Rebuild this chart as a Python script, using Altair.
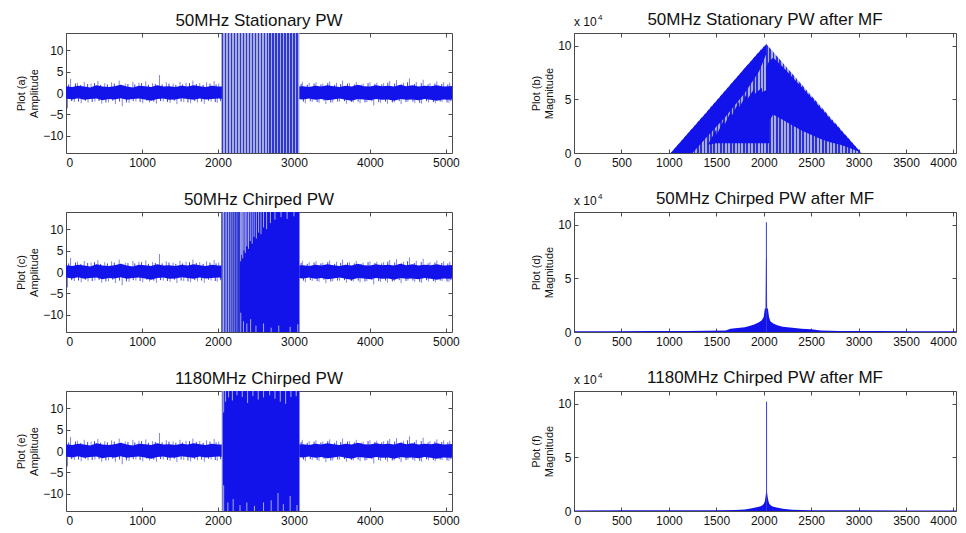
import altair as alt
import pandas as pd

# ------------------------------------------------------------------ data
titles = ["50MHz Stationary PW", "50MHz Stationary PW after MF",
          "50MHz Chirped PW", "50MHz Chirped PW after MF",
          "1180MHz Chirped PW", "1180MHz Chirped PW after MF"]
ytitles = [["Plot (a)", "Amplitude"], ["Plot (b)", "Magnitude"],
           ["Plot (c)", "Amplitude"], ["Plot (d)", "Magnitude"],
           ["Plot (e)", "Amplitude"], ["Plot (f)", "Magnitude"]]

left_ticks = [0, 1000, 2000, 3000, 4000, 5000]
right_ticks = [0, 500, 1000, 1500, 2000, 2500, 3000, 3500, 4000]
amp_ticks = [-10, -5, 0, 5, 10]
mag_ticks = [0, 50000, 100000]
left_xdom = [0, 5080]
right_xdom = [0, 4027]
amp_dom = [-14, 14]
mag_dom = [0, 112000]

# received noise (identical in the three raw records), envelope every 80 samples
noise_x = list(range(0, 5121, 80))
noise_hi = [1.6, 1.4, 1.7, 1.5, 1.3, 1.8, 1.5, 1.4, 1.6, 1.9, 1.5, 1.3, 1.7,
            1.6, 1.4, 1.8, 1.5, 1.6, 1.4, 1.7, 1.5, 1.8, 1.6, 1.4, 1.7, 1.5,
            1.5, 1.5, 1.5, 1.5, 1.5, 1.5, 1.5, 1.5, 1.5, 1.5, 1.5, 1.5, 1.5,
            1.6, 1.4, 1.7, 1.5, 1.8, 1.6, 1.4, 1.7, 1.5, 1.9, 1.6, 1.5, 1.8,
            1.6, 1.7, 1.5, 1.9, 1.6, 1.8, 1.5, 1.7, 1.6, 1.8, 1.5, 1.6, 1.7]
noise_lo = [-1.3, -1.5, -1.2, -1.6, -1.4, -1.3, -1.7, -1.4, -1.5, -1.2, -1.6, -1.4, -1.3,
            -1.5, -1.8, -1.4, -1.3, -1.6, -1.5, -1.2, -1.4, -1.6, -1.3, -1.5, -1.4, -1.3,
            -1.4, -1.4, -1.4, -1.4, -1.4, -1.4, -1.4, -1.4, -1.4, -1.4, -1.4, -1.4, -1.4,
            -1.5, -1.3, -1.6, -1.4, -1.7, -1.5, -1.3, -1.6, -1.8, -1.4, -1.5, -1.7, -1.4,
            -1.6, -1.5, -1.8, -1.4, -1.6, -1.5, -1.7, -1.4, -1.6, -1.8, -1.5, -1.6, -1.4]
# tall isolated noise spikes
spike_x = [60, 150, 240, 330, 420, 510, 600, 700, 780, 880, 960, 1050, 1140, 1230,
           1320, 1410, 1500, 1580, 1670, 1760, 1850, 1950, 2010,
           3110, 3200, 3290, 3380, 3470, 3560, 3640, 3730, 3820, 3910, 4000, 4090,
           4180, 4260, 4350, 4440, 4520, 4610, 4700, 4790, 4880, 4970, 5050,
           20, 110, 200, 290, 380, 470, 560, 650, 740, 830, 920, 1010, 1100, 1190,
           1280, 1370, 1460, 1550, 1640, 1730, 1820, 1910, 1990,
           3150, 3240, 3330, 3420, 3510, 3600, 3690, 3780, 3870, 3960, 4050, 4140,
           4230, 4320, 4410, 4500, 4590, 4680, 4770, 4860, 4950, 5040]
spike_y = [3.3, 2.4, 2.6, 2.2, 2.8, 2.3, 2.5, 2.9, 2.2, 2.6, 2.4, 2.7, 2.3, 4.2,
           2.5, 2.2, 2.6, 2.4, 2.9, 2.3, 2.5, 2.8, 2.2,
           2.6, 2.3, 2.5, 2.2, 2.7, 2.4, 2.9, 2.3, 2.6, 2.2, 2.5, 2.4,
           2.3, 2.8, 3.0, 2.4, 3.4, 2.6, 3.1, 2.3, 2.7, 2.5, 2.4,
           -3.6, -2.1, -2.4, -2.2, -2.0, -2.5, -2.2, -2.6, -3.1, -2.3, -2.0, -2.4, -2.2, -2.5,
           -2.0, -2.3, -2.6, -2.1, -2.4, -2.2, -2.5, -2.0, -2.3,
           -2.4, -2.1, -2.3, -2.6, -2.2, -2.0, -2.5, -2.2, -2.4, -2.1, -2.9, -2.3,
           -2.5, -2.2, -2.6, -2.0, -2.3, -2.5, -2.2, -2.4, -2.1, -2.3]
# shorter spikes that make the fuzzy edge of the noise band
fuzz_x = [35, 125, 195, 285, 375, 455, 545, 635, 725, 815, 905, 995, 1085, 1175, 1265,
          1355, 1445, 1535, 1625, 1715, 1805, 1895, 1975,
          3095, 3175, 3265, 3355, 3445, 3535, 3615, 3705, 3795, 3885, 3975, 4065, 4155,
          4235, 4325, 4415, 4495, 4585, 4675, 4765, 4855, 4945, 5025,
          75, 165, 255, 345, 435, 525, 615, 705, 795, 885, 975, 1065, 1155, 1245, 1335,
          1425, 1515, 1605, 1695, 1785, 1875, 1965, 2035,
          3125, 3215, 3305, 3395, 3485, 3575, 3665, 3755, 3845, 3935, 4025, 4115, 4205,
          4295, 4385, 4475, 4565, 4655, 4745, 4835, 4925, 5015, 5065]
fuzz_y = [2.0, 2.2, 1.9, 2.1, 2.3, 1.9, 2.0, 2.2, 1.9, 2.1, 2.0, 2.3, 1.9, 2.1, 2.0,
          2.2, 1.9, 2.0, 2.3, 2.1, 1.9, 2.2, 2.0,
          2.1, 1.9, 2.2, 2.0, 2.3, 1.9, 2.1, 2.2, 2.0, 1.9, 2.3, 2.1, 2.0,
          2.4, 2.2, 2.0, 2.5, 2.1, 2.3, 2.0, 2.2, 2.1, 2.0,
          -1.9, -2.0, -1.8, -2.1, -1.9, -2.2, -1.8, -2.0, -2.2, -1.9, -2.1, -1.8, -2.0, -1.9, -2.1,
          -1.8, -2.0, -2.2, -1.9, -2.0, -1.8, -2.1, -1.9,
          -2.0, -1.9, -2.1, -1.8, -2.2, -2.0, -1.9, -2.1, -2.0, -2.2, -1.9, -2.1, -2.0,
          -2.2, -1.9, -2.1, -2.0, -2.3, -1.9, -2.1, -2.0, -2.2, -1.9]

pulse_start, pulse_end, pulse_amp = 2048, 3072, 20

# 50 MHz chirp: sparse cycles at the start, then dense
chirp50_strokes = [2052, 2090, 2124, 2155, 2183, 2208, 2231, 2252, 2270, 2285]
chirp50_dense_start = 2290
chirp50_top_x = [2298, 2312, 2326, 2342, 2360, 2380, 2402, 2425, 2450, 2476,
                 2505, 2535, 2566, 2600, 2640, 2690, 2750, 2830, 2910, 3000]
chirp50_top_y = [2.5, 4.0, 3.2, 5.0, 4.4, 6.0, 5.4, 7.2, 6.6, 8.2,
                 7.8, 9.2, 8.8, 10.4, 10.0, 11.4, 12.2, 12.8, 12.4, 13.0]
chirp50_bot_x = [2300, 2335, 2380, 2430, 2500, 2600, 2700, 2800, 2950, 3050]
chirp50_bot_y = [-9.5, -11.5, -12.0, -11.0, -12.5, -12.0, -13.0, -12.5, -12.8, -12.2]

# 1180 MHz chirp: dense over the whole pulse
chirp1180_dense_start = 2062
chirp1180_top_x = [2075, 2100, 2140, 2190, 2250, 2320, 2390, 2460, 2530, 2600,
                   2680, 2750, 2820, 2890, 2960, 3030]
chirp1180_top_y = [9.0, 11.5, 12.5, 11.8, 13.0, 12.6, 11.2, 12.8, 12.0, 12.5,
                   13.0, 12.2, 11.5, 11.0, 12.6, 12.8]
chirp1180_bot_x = [2075, 2130, 2200, 2290, 2380, 2480, 2600, 2700, 2790, 2860, 2950, 3040]
chirp1180_bot_y = [-8.0, -12.0, -11.2, -12.6, -12.0, -12.8, -12.0, -11.5, -9.8, -12.4, -10.5, -12.6]

# stationary pulse after matched filter (triangle)
tri_x = [1020, 2025, 3030]
tri_y = [0, 102000, 0]
b_band_x = [1020, 1250, 1400, 1600, 1800, 1950, 2025]
b_band_lo = [0, 0, 15000, 34000, 56000, 76000, 92000]
b_band_hi = [0, 23000, 38000, 58500, 79000, 94000, 101000]
b_hump_x = [1420, 1500, 1505, 1580, 1585, 1660, 1665, 1740, 1745, 1820,
            1825, 1900, 1905, 1980, 1985, 2060]
b_hump_hi = [9000, 22000, 17000, 31000, 26000, 40000, 35000, 48000, 43000, 55000,
             50000, 60000, 55000, 61000, 57000, 60000]
b_hump_lo = [8000, 9000, 9000, 9000, 9000, 9000, 9000, 9000, 9000, 9000,
             9000, 9000, 9000, 9000, 9000, 9000]
b_right_x = [2025, 2060, 2100, 2200, 2300, 2400, 2500, 2600, 2700, 2800, 2900, 3000, 3030]
b_right_hi = [80000, 86000, 89000, 80500, 71000, 61500, 52000, 42000, 32000, 22500, 12500, 2800, 0]
b_right_lo = [9000, 30000, 36000, 31000, 26000, 21000, 17000, 13000, 10000, 8000, 5000, 1500, 0]

# chirped pulses after matched filter (compressed peak)
d_x = [0, 400, 800, 1200, 1400, 1600, 1650, 1700, 1750, 1800, 1850, 1900, 1950, 1980,
       2000, 2012, 2020, 2024, 2032, 2036, 2044, 2056, 2070, 2100, 2150, 2200, 2300,
       2400, 2500, 2600, 2800, 3200, 3600, 4067]
d_y = [800, 800, 1000, 1000, 1200, 1500, 3000, 3500, 4000, 4500, 5500, 7000, 9000, 11000,
       14000, 22000, 22000, 69000, 69000, 22000, 22000, 14000, 10000, 8000, 6000, 5000, 4000,
       3000, 2500, 1500, 1000, 1000, 800, 800]
d_peak_x, d_peak_y = 2028, 102500
f_x = [0, 500, 1000, 1500, 1700, 1800, 1850, 1900, 1950, 1980, 2000, 2012, 2020, 2026,
       2034, 2040, 2050, 2060, 2080, 2100, 2150, 2200, 2300, 2500, 3000, 3500, 4067]
f_y = [500, 600, 600, 800, 1000, 1500, 2000, 3000, 4000, 5000, 6500, 9000, 14000, 18000,
       18000, 14000, 9000, 6500, 5000, 4000, 3000, 2000, 1200, 800, 600, 500, 500]
f_peak_x, f_peak_y = 2030, 102000

# ------------------------------------------------------------------ style
WL, WR, H = 386, 382, 120
FONT = "Liberation Sans"
BLUE = "#1212ea"
MID = "#2e36d4"
LIGHT = "#a8acda"
SPIKE = "#8286dc"
FUZZ = "#3a40e4"
FRAME = "#4a4a4a"
TXT = "#111111"


def stripes(n, dark, light, frac):
    stops = []
    for k in range(n):
        a, b, c = k / n, (k + frac) / n, (k + 1) / n
        stops += [alt.GradientStop(offset=a, color=dark), alt.GradientStop(offset=b, color=dark),
                  alt.GradientStop(offset=b, color=light), alt.GradientStop(offset=c, color=light)]
    return alt.LinearGradient(gradient="linear", stops=stops, x1=0, x2=1, y1=0, y2=0)


def frame_layers(W, xdom, ydom, xticks, yticks, ytitle, label_expr=None, last_flush=False):
    dummy = pd.DataFrame({"x": [xdom[0]], "y": [ydom[0]]})
    xs = alt.Scale(domain=xdom, nice=False, zero=False)
    ys = alt.Scale(domain=ydom, nice=False, zero=False)
    base = alt.Chart(dummy).mark_point(opacity=0)
    lab = dict(labelFont=FONT, labelFontSize=12, labelColor=TXT, format="d", domain=False)
    ykw = dict(orient="left", values=yticks, ticks=False, labelPadding=3,
               title=ytitle, titlePadding=3, titleFont=FONT, titleFontSize=11,
               titleFontWeight="normal", titleColor=TXT, titleLineHeight=13, **lab)
    if label_expr:
        ykw["labelExpr"] = label_expr
    tk = dict(labels=False, tickSize=4, tickColor=FRAME, title=None, domain=False)
    main_x = xticks[:-1] if last_flush else xticks
    layers = [
        base.encode(
            x=alt.X("x:Q", scale=xs, axis=alt.Axis(orient="bottom", values=main_x, ticks=False,
                                                   labelPadding=4, title=None, **lab)),
            y=alt.Y("y:Q", scale=ys, axis=alt.Axis(**ykw))),
        base.encode(
            x=alt.X("x:Q", scale=xs, axis=alt.Axis(orient="top", offset=-H, values=xticks, **tk)),
            y=alt.Y("y:Q", scale=ys, axis=alt.Axis(orient="right", offset=-W, values=yticks, **tk))),
        base.encode(
            x=alt.X("x:Q", scale=xs, axis=alt.Axis(orient="bottom", offset=-H, values=xticks, **tk)),
            y=alt.Y("y:Q", scale=ys, axis=alt.Axis(orient="left", offset=-W, values=yticks, **tk))),
    ]
    if last_flush:
        layers.append(base.encode(
            x=alt.X("x:Q", scale=xs, axis=alt.Axis(orient="bottom", values=xticks[-1:], ticks=False,
                                                   labelPadding=4, labelAlign="right",
                                                   labelOffset=3, title=None, **lab)),
            y=alt.Y("y:Q", scale=ys, axis=None)))
    return layers


def X(field):
    return alt.X(field, type="quantitative", axis=None)


def Y(field):
    return alt.Y(field, type="quantitative", axis=None)


def panel(data_layers, frame, title, W, offset):
    ch = alt.layer(*data_layers, *frame).resolve_axis(x="independent", y="independent")
    return ch.properties(width=W, height=H,
                         title=alt.TitleParams(title, fontSize=17, fontWeight="normal",
                                               font=FONT, color=TXT, offset=offset,
                                               anchor="middle", frame="group"))


noise_df = pd.DataFrame({"x": noise_x, "hi": noise_hi, "lo": noise_lo})
spike_df = pd.DataFrame({"x": spike_x, "y": spike_y, "b": [0] * len(spike_x)})
fuzz_df = pd.DataFrame({"x": fuzz_x, "y": fuzz_y, "b": [0] * len(fuzz_x)})
pulse_df = pd.DataFrame({"x0": [pulse_start], "x1": [pulse_end],
                         "y0": [-pulse_amp], "y1": [pulse_amp]})


def noise_layers():
    return [
        alt.Chart(spike_df).mark_rule(color=SPIKE, strokeWidth=1, clip=True).encode(
            x=X("x"), y=Y("b"), y2="y"),
        alt.Chart(fuzz_df).mark_rule(color=FUZZ, strokeWidth=1, clip=True).encode(
            x=X("x"), y=Y("b"), y2="y"),
        alt.Chart(noise_df).mark_area(color=BLUE, clip=True).encode(
            x=X("x"), y=Y("hi"), y2="lo"),
    ]


def pulse_rect(color):
    return alt.Chart(pulse_df).mark_rect(color=color, clip=True).encode(
        x=X("x0"), x2="x1", y=Y("y0"), y2="y1")


def streaks(xs, ys, edge, color, width=1.0):
    df = pd.DataFrame({"x": xs, "y": ys, "e": [edge] * len(xs)})
    return alt.Chart(df).mark_rule(color=color, strokeWidth=width, clip=True).encode(
        x=X("x"), y=Y("e"), y2="y")


def dense(start, color):
    df = pd.DataFrame({"x0": [start], "x1": [pulse_end], "y0": [-pulse_amp], "y1": [pulse_amp]})
    return alt.Chart(df).mark_rect(color=color, clip=True).encode(
        x=X("x0"), x2="x1", y=Y("y0"), y2="y1")


def x10_layers():
    dummy = pd.DataFrame({"a": [0]})
    t1 = alt.Chart(dummy).mark_text(align="left", baseline="alphabetic", fontSize=12,
                                    font=FONT, color=TXT).encode(
        x=alt.value(0), y=alt.value(-7), text=alt.value("x 10"))
    t2 = alt.Chart(dummy).mark_text(align="left", baseline="alphabetic", fontSize=8,
                                    font=FONT, color=TXT).encode(
        x=alt.value(24), y=alt.value(-13), text=alt.value("4"))
    return [t1, t2]


LEFT_OFF, RIGHT_OFF = 3, -15


def left_panel(layers, i):
    fr = frame_layers(WL, left_xdom, amp_dom, left_ticks, amp_ticks, ytitles[i])
    return panel(layers, fr, titles[i], WL, LEFT_OFF)


def right_panel(layers, i):
    fr = frame_layers(WR, right_xdom, mag_dom, right_ticks, mag_ticks, ytitles[i],
                      "datum.value / 10000", last_flush=True)
    return panel(layers + x10_layers(), fr, titles[i], WR, RIGHT_OFF)


# (a) stationary pulse
pa = left_panel(noise_layers() + [
    alt.Chart(pulse_df).mark_rect(color=stripes(26, MID, LIGHT, 0.55), clip=True).encode(
        x=X("x0"), x2="x1", y=Y("y0"), y2="y1"),
], 0)

# (c) 50 MHz chirp
pc = left_panel(noise_layers() + [
    pulse_rect(LIGHT),
    streaks(chirp50_strokes, [pulse_amp] * len(chirp50_strokes), -pulse_amp, MID, 1.3),
    dense(chirp50_dense_start, BLUE),
    streaks(chirp50_top_x, chirp50_top_y, pulse_amp, LIGHT, 1.0),
    streaks(chirp50_bot_x, chirp50_bot_y, -pulse_amp, LIGHT, 1.0),
], 2)

# (e) 1180 MHz chirp
pe = left_panel(noise_layers() + [
    pulse_rect(LIGHT),
    dense(chirp1180_dense_start, BLUE),
    streaks(chirp1180_top_x, chirp1180_top_y, pulse_amp, LIGHT, 1.0),
    streaks(chirp1180_bot_x, chirp1180_bot_y, -pulse_amp, LIGHT, 1.0),
], 4)

# (b) triangle after MF
tri_df = pd.DataFrame({"x": tri_x, "y": tri_y, "z": [0] * len(tri_x)})


def band(xs, lo, hi):
    df = pd.DataFrame({"x": xs, "lo": lo, "hi": hi})
    return alt.Chart(df).mark_area(color=BLUE, clip=True).encode(x=X("x"), y=Y("hi"), y2="lo")


pb = right_panel([
    alt.Chart(tri_df).mark_area(color=stripes(58, "#2a30e0", LIGHT, 0.5), clip=True).encode(
        x=X("x"), y=Y("y"), y2="z"),
    band(b_band_x, b_band_lo, b_band_hi),
    band(b_hump_x, b_hump_lo, b_hump_hi),
    band(b_right_x, b_right_lo, b_right_hi),
], 1)


def compressed(xs, ys, px, py):
    df = pd.DataFrame({"x": xs, "y": ys, "z": [0] * len(xs)})
    pk = pd.DataFrame({"x": [px], "y": [py], "z": [0]})
    return [
        alt.Chart(df).mark_area(color=BLUE, clip=True).encode(x=X("x"), y=Y("y"), y2="z"),
        alt.Chart(pk).mark_rule(color="#3a3ad8", strokeWidth=1, clip=True).encode(
            x=X("x"), y=Y("z"), y2="y"),
    ]


pd_ = right_panel(compressed(d_x, d_y, d_peak_x, d_peak_y), 3)
pf = right_panel(compressed(f_x, f_y, f_peak_x, f_peak_y), 5)

chart = alt.concat(pa, pb, pc, pd_, pe, pf, columns=2,
                   spacing={"row": 59, "column": 122}, bounds="flush").properties(
    padding={"left": 7, "top": 2, "right": 0, "bottom": 0}
).configure_view(stroke=FRAME, strokeWidth=1).configure_axis(grid=False)

chart.save("out.html", embed_options={"renderer": "svg", "actions": False})
